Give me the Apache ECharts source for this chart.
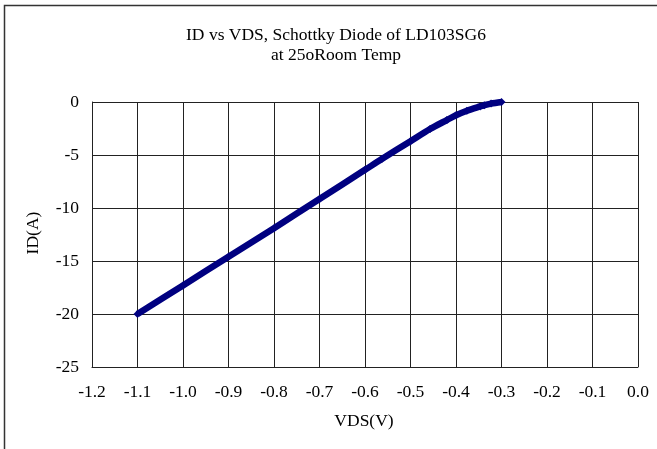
<!DOCTYPE html>
<html>
<head>
<meta charset="utf-8">
<script src="https://cdn.jsdelivr.net/npm/echarts@6/dist/echarts.min.js"></script>
<style>
html,body{margin:0;padding:0;background:#fff;}
#c{width:657px;height:449px;}
</style>
</head>
<body>
<div id="c"></div>
<script>
var titleLines = ['ID vs VDS, Schottky Diode of LD103SG6', 'at 25oRoom Temp'];
var xName = 'VDS(V)';
var yName = 'ID(A)';
var vds = [-1.1, -1.0, -0.9, -0.8, -0.7, -0.6, -0.563, -0.5, -0.457, -0.42, -0.4, -0.376, -0.347, -0.338, -0.323, -0.3];
var id  = [-20, -17.3, -14.6, -11.9, -9.15, -6.4, -5.38, -3.7, -2.55, -1.7, -1.25, -0.82, -0.42, -0.31, -0.15, 0];

var font = 'Liberation Serif, Times New Roman, serif';
var fs = 17.5;
var chart = echarts.init(document.getElementById('c'), null, {renderer: 'canvas'});
var data = vds.map(function (v, i) { return [v, id[i]]; });

chart.setOption({
  animation: false,
  backgroundColor: '#fff',
  grid: {left: 92, top: 102, right: 19, bottom: 82, show: false},
  graphic: [
    {type: 'rect', shape: {x: 4.5, y: 5.5, width: 700, height: 500}, style: {fill: 'none', stroke: '#333', lineWidth: 1.5}, silent: true},
    {type: 'text', x: 336, y: 35, style: {text: titleLines[0], font: fs + 'px ' + font, fill: '#000', textAlign: 'center', textVerticalAlign: 'middle'}},
    {type: 'text', x: 336, y: 55, style: {text: titleLines[1], font: fs + 'px ' + font, fill: '#000', textAlign: 'center', textVerticalAlign: 'middle'}},
    {type: 'text', x: 364, y: 421, style: {text: xName, font: fs + 'px ' + font, fill: '#000', textAlign: 'center', textVerticalAlign: 'middle'}},
    {type: 'text', x: 33, y: 233, rotation: Math.PI / 2, style: {text: yName, font: fs + 'px ' + font, fill: '#000', textAlign: 'center', textVerticalAlign: 'middle'}}
  ],
  xAxis: {
    type: 'value', min: -1.2, max: 0, interval: 0.1,
    axisLine: {show: true, onZero: false, lineStyle: {color: '#222', width: 1}},
    axisTick: {show: false},
    splitLine: {show: true, lineStyle: {color: '#222', width: 1}},
    axisLabel: {margin: 16, fontSize: fs, fontFamily: font, color: '#000',
      formatter: function (v) { return v.toFixed(1); }}
  },
  yAxis: {
    type: 'value', min: -25, max: 0, interval: 5,
    axisLine: {show: true, onZero: false, lineStyle: {color: '#222', width: 1}},
    axisTick: {show: false},
    splitLine: {show: true, lineStyle: {color: '#222', width: 1}},
    axisLabel: {margin: 13, fontSize: fs, fontFamily: font, color: '#000'}
  },
  series: [{
    type: 'line', data: data, smooth: 0.3,
    lineStyle: {color: '#000080', width: 6.5},
    itemStyle: {color: '#000080'},
    symbol: 'diamond', symbolSize: 8, showSymbol: true
  }]
});
</script>
</body>
</html>
